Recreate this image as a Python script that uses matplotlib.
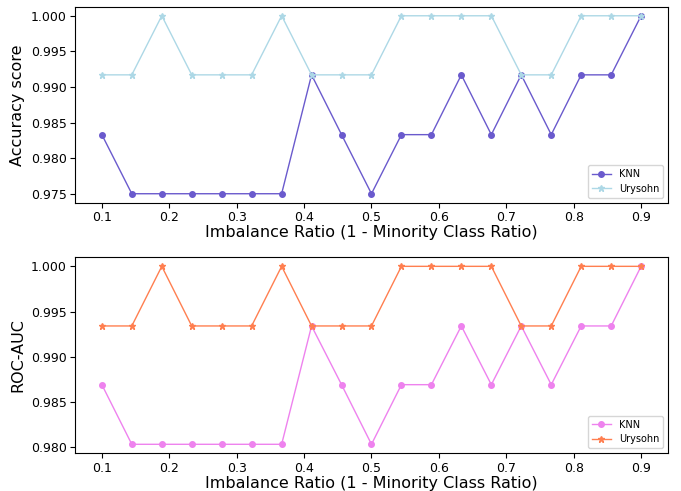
import numpy as np
import matplotlib
matplotlib.use('Agg')
import matplotlib.pyplot as plt

# imbalance ratios (19 steps between 0.1 and 0.9)
ratios = [0.1, 0.1444, 0.1889, 0.2333, 0.2778, 0.3222, 0.3667, 0.4111, 0.4556, 0.5,
          0.5444, 0.5889, 0.6333, 0.6778, 0.7222, 0.7667, 0.8111, 0.8556, 0.9]

acc_knn = [0.9833, 0.975, 0.975, 0.975, 0.975, 0.975, 0.975, 0.9917, 0.9833, 0.975,
           0.9833, 0.9833, 0.9917, 0.9833, 0.9917, 0.9833, 0.9917, 0.9917, 1.0]
acc_urysohn = [0.9917, 0.9917, 1.0, 0.9917, 0.9917, 0.9917, 1.0, 0.9917, 0.9917, 0.9917,
               1.0, 1.0, 1.0, 1.0, 0.9917, 0.9917, 1.0, 1.0, 1.0]

auc_knn = [0.9869, 0.9803, 0.9803, 0.9803, 0.9803, 0.9803, 0.9803, 0.9934, 0.9869, 0.9803,
           0.9869, 0.9869, 0.9934, 0.9869, 0.9934, 0.9869, 0.9934, 0.9934, 1.0]
auc_urysohn = [0.9934, 0.9934, 1.0, 0.9934, 0.9934, 0.9934, 1.0, 0.9934, 0.9934, 0.9934,
               1.0, 1.0, 1.0, 1.0, 0.9934, 0.9934, 1.0, 1.0, 1.0]

fig, (ax1, ax2) = plt.subplots(2, 1, figsize=(6.81, 4.91), dpi=100)
fig.subplots_adjust(left=0.11, right=0.981, top=0.986, bottom=0.077, hspace=0.28)

ax1.plot(ratios, acc_knn, marker='o', markersize=4, linewidth=1, color='slateblue', label='KNN')
ax1.plot(ratios, acc_urysohn, marker='*', markersize=5, linewidth=1, color='lightblue', label='Urysohn')
ax1.set_xlabel('Imbalance Ratio (1 - Minority Class Ratio)', fontsize=11.5, labelpad=1)
ax1.set_ylabel('Accuracy score', fontsize=11.5)
ax1.legend(loc='lower right', fontsize=7)

ax2.plot(ratios, auc_knn, marker='o', markersize=4, linewidth=1, color='violet', label='KNN')
ax2.plot(ratios, auc_urysohn, marker='*', markersize=5, linewidth=1, color='coral', label='Urysohn')
ax2.set_xlabel('Imbalance Ratio (1 - Minority Class Ratio)', fontsize=11.5, labelpad=1)
ax2.set_ylabel('ROC-AUC', fontsize=11.5)
ax2.legend(loc='lower right', fontsize=7)

for ax in (ax1, ax2):
    ax.tick_params(labelsize=9, pad=2.5)

plt.savefig('out.png')
